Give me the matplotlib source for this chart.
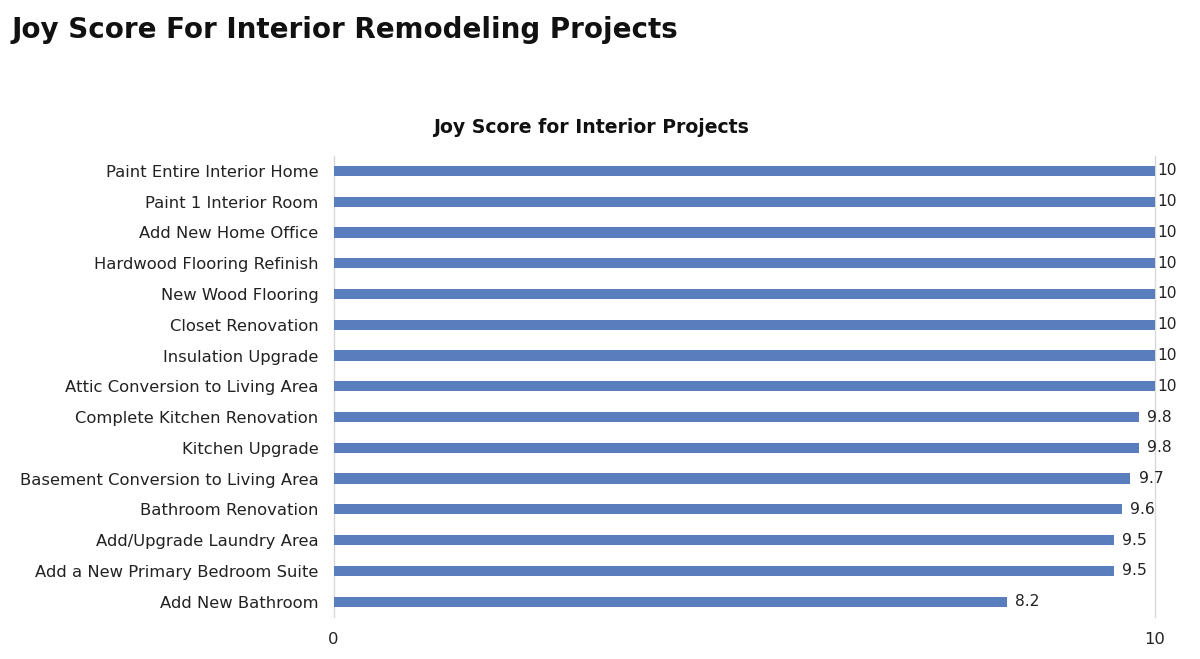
import matplotlib.pyplot as plt

# data (top to bottom)
projects = [
    "Paint Entire Interior Home",
    "Paint 1 Interior Room",
    "Add New Home Office",
    "Hardwood Flooring Refinish",
    "New Wood Flooring",
    "Closet Renovation",
    "Insulation Upgrade",
    "Attic Conversion to Living Area",
    "Complete Kitchen Renovation",
    "Kitchen Upgrade",
    "Basement Conversion to Living Area",
    "Bathroom Renovation",
    "Add/Upgrade Laundry Area",
    "Add a New Primary Bedroom Suite",
    "Add New Bathroom",
]
scores = [10, 10, 10, 10, 10, 10, 10, 10, 9.8, 9.8, 9.7, 9.6, 9.5, 9.5, 8.2]

plt.rcParams['font.family'] = ['DejaVu Sans']
txt = "#222222"

fig = plt.figure(figsize=(12, 6.59), dpi=100)
ax = fig.add_axes([0.278, 0.0637, 0.6845, 0.7003])

ypos = list(range(len(projects)))
ax.barh(ypos, scores, height=0.33, color="#5a7dbd")
ax.set_ylim(len(projects) - 0.5, -0.5)
ax.set_xlim(0, 10)

for y, v in zip(ypos, scores):
    lab = "10" if v == 10 else f"{v:g}"
    ax.annotate(lab, (v, y), xytext=(2 if v == 10 else 6, 0), textcoords="offset points",
                va="center", ha="left", fontsize=11.2, color=txt)

ax.set_yticks(ypos)
ax.set_yticklabels(projects, fontsize=11.8, color=txt)
ax.set_xticks([0, 10])
ax.set_xticklabels(["0", "10"], fontsize=11.8, color=txt)
ax.tick_params(axis="both", length=0)
ax.tick_params(axis="x", pad=11)
ax.tick_params(axis="y", pad=11)
for s in ax.spines.values():
    s.set_visible(False)
ax.grid(axis="x", color="#d9d9d9", linewidth=1)
for g in ax.get_xgridlines():
    g.set_clip_on(False)
ax.set_axisbelow(True)

fig.text(0.01, 0.955, "Joy Score For Interior Remodeling Projects", fontsize=20,
         fontweight="bold", color="#111111", va="center", ha="left")
fig.text(0.4925, 0.806, "Joy Score for Interior Projects", fontsize=13.6,
         fontweight="bold", color="#111111", va="center", ha="center")

fig.savefig("out.png", dpi=100)
